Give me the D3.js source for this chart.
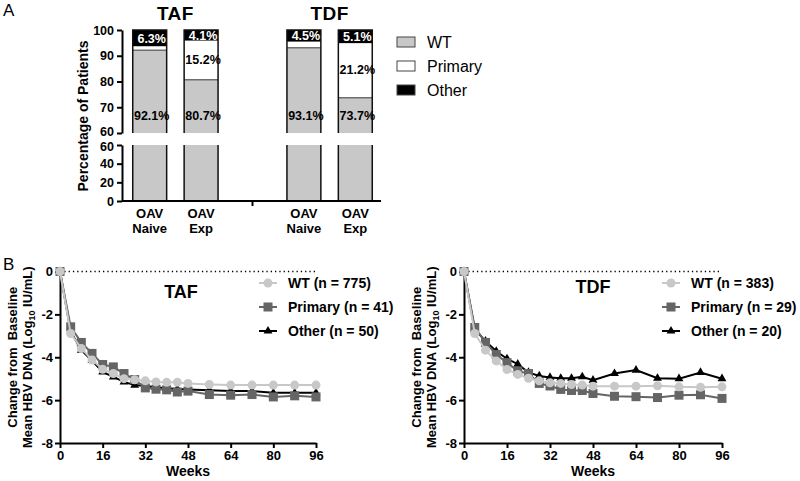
<!DOCTYPE html>
<html>
<head>
<meta charset="utf-8">
<script src="https://cdn.jsdelivr.net/npm/d3@7"></script>
<style>
  html, body { margin: 0; padding: 0; background: #fff; }
  svg { display: block; font-family: "Liberation Sans", Arial, sans-serif; }
  .b { font-weight: bold; }
</style>
</head>
<body>
<svg id="chart" width="800" height="481"></svg>
<script>
// ---------------- Panel A data ----------------
const barKeys = ["TAF-Naive", "TAF-Exp", "gap", "TDF-Naive", "TDF-Exp"];
const barLabelLine1 = ["OAV", "OAV", "", "OAV", "OAV"];
const barLabelLine2 = ["Naive", "Exp", "", "Naive", "Exp"];
const barDrugTitles = ["TAF", "TDF"];
const wtPct = [92.1, 80.7, null, 93.1, 73.7];
const primaryPct = [1.6, 15.2, null, 2.4, 21.2];
const otherPct = [6.3, 4.1, null, 4.5, 5.1];
const showPrimaryLabel = [false, true, false, false, true];
const upperTicks = [60, 70, 80, 90, 100];
const lowerTicks = [0, 20, 40, 60];
const barLegend = ["WT", "Primary", "Other"];

// ---------------- Panel B data ----------------
const weeks = [0, 4, 8, 12, 16, 20, 24, 28, 32, 36, 40, 44, 48, 56, 64, 72, 80, 88, 96];
const tafWT      = [0, -2.89, -3.59, -4.13, -4.56, -4.76, -5.00, -5.05, -5.10, -5.15, -5.17, -5.17, -5.22, -5.27, -5.30, -5.30, -5.30, -5.30, -5.30];
const tafPrimary = [0, -2.58, -3.31, -3.82, -4.34, -4.45, -4.76, -5.04, -5.43, -5.49, -5.52, -5.62, -5.58, -5.74, -5.77, -5.74, -5.85, -5.80, -5.85];
const tafOther   = [0, -2.80, -3.67, -4.15, -4.68, -4.92, -5.15, -5.30, -5.34, -5.40, -5.45, -5.48, -5.50, -5.54, -5.58, -5.58, -5.66, -5.66, -5.66];
const tdfWT      = [0, -2.89, -3.67, -4.17, -4.57, -4.80, -4.98, -5.10, -5.19, -5.22, -5.27, -5.30, -5.35, -5.35, -5.35, -5.33, -5.38, -5.40, -5.38];
const tdfPrimary = [0, -2.61, -3.31, -3.87, -4.25, -4.64, -4.76, -5.22, -5.34, -5.50, -5.55, -5.55, -5.69, -5.82, -5.84, -5.88, -5.77, -5.75, -5.92];
const tdfOther   = [0, -2.70, -3.25, -3.72, -4.07, -4.32, -4.71, -4.87, -4.94, -4.98, -4.98, -4.91, -5.07, -4.76, -4.60, -4.98, -5.00, -4.71, -5.00];
const tafLegend = ["WT (n = 775)", "Primary (n = 41)", "Other (n = 50)"];
const tdfLegend = ["WT (n = 383)", "Primary (n = 29)", "Other (n = 20)"];
const weekTicks = [0, 16, 32, 48, 64, 80, 96];
const changeTicks = [0, -2, -4, -6, -8];

const svg = d3.select("#chart");
const colWT = "#c8c8c8", colPrimary = "#656565", colOther = "#000";
const FONT = "Liberation Sans, Arial, sans-serif";

function styleAxis(g, fs) {
  g.selectAll("path.domain").attr("stroke", "#000").attr("stroke-width", 2);
  g.selectAll(".tick line").attr("stroke", "#000").attr("stroke-width", 2);
  g.selectAll(".tick text").attr("font-family", FONT).attr("font-weight", "bold")
    .attr("font-size", fs).attr("fill", "#000");
}

// =============== PANEL A ===============
svg.append("text").attr("x", 3).attr("y", 16).attr("font-size", 17).text("A");

const xA = d3.scaleBand().domain(barKeys).range([124, 381]).paddingInner(0.34).paddingOuter(0.17);
const yUp = d3.scaleLinear().domain([60, 100]).range([133, 30]);
const yLo = d3.scaleLinear().domain([0, 60]).range([201, 145]);
const axisX0 = 122;

const gA = svg.append("g");
barKeys.forEach((k, i) => {
  if (wtPct[i] == null) return;
  const x = xA(k), w = xA.bandwidth();
  const segs = [
    { lo: 0, hi: wtPct[i], fill: colWT },
    { lo: wtPct[i], hi: wtPct[i] + primaryPct[i], fill: "#fff" },
    { lo: wtPct[i] + primaryPct[i], hi: 100, fill: colOther }
  ];
  segs.forEach(s => {
    const ulo = Math.max(s.lo, 60), uhi = Math.min(s.hi, 100);
    if (uhi > ulo) gA.append("rect").attr("x", x).attr("width", w)
      .attr("y", yUp(uhi)).attr("height", yUp(ulo) - yUp(uhi)).attr("fill", s.fill);
    const llo = Math.max(s.lo, 0), lhi = Math.min(s.hi, 60);
    if (lhi > llo) gA.append("rect").attr("x", x).attr("width", w)
      .attr("y", yLo(lhi)).attr("height", yLo(llo) - yLo(lhi)).attr("fill", s.fill);
  });
  gA.append("line").attr("x1", x).attr("x2", x + w)
    .attr("y1", yUp(wtPct[i])).attr("y2", yUp(wtPct[i]))
    .attr("stroke", "#6e6e6e").attr("stroke-width", 1.5);
  gA.append("path").attr("d", `M${x},${yUp(60)}V${yUp(100)}H${x + w}V${yUp(60)}`)
    .attr("fill", "none").attr("stroke", "#111").attr("stroke-width", 1.5);
  gA.append("path").attr("d", `M${x},${yLo(60)}V${yLo(0)}M${x + w},${yLo(60)}V${yLo(0)}`)
    .attr("fill", "none").attr("stroke", "#111").attr("stroke-width", 1.5);
  const cx = x + w / 2 + 2;
  gA.append("text").attr("class", "b").attr("x", cx).attr("y", yUp(66.6) + 4)
    .attr("text-anchor", "middle").attr("font-size", 12.5).text(wtPct[i].toFixed(1) + "%");
  if (showPrimaryLabel[i]) {
    const mid = wtPct[i] + primaryPct[i] / 2;
    gA.append("text").attr("class", "b").attr("x", cx).attr("y", yUp(mid) + 4)
      .attr("text-anchor", "middle").attr("font-size", 12.5).text(primaryPct[i].toFixed(1) + "%");
  }
  gA.append("text").attr("class", "b").attr("x", cx).attr("y", yUp(100 - otherPct[i] / 2) + 4.5)
    .attr("text-anchor", "middle").attr("font-size", 12.5).attr("fill", "#fff")
    .text(otherPct[i].toFixed(1) + "%");
});

const gUp = svg.append("g").attr("transform", `translate(${axisX0},0)`)
  .call(d3.axisLeft(yUp).tickValues(upperTicks).tickSize(5).tickSizeOuter(0).tickPadding(3));
styleAxis(gUp, 12.5);
gUp.selectAll(".tick text").filter(d => d === 60).attr("dy", "0.2em");
const gLo = svg.append("g").attr("transform", `translate(${axisX0},0)`)
  .call(d3.axisLeft(yLo).tickValues(lowerTicks).tickSize(5).tickSizeOuter(0).tickPadding(3));
styleAxis(gLo, 12.5);
gLo.selectAll(".tick text").filter(d => d === 60).attr("dy", "0.45em");
svg.append("line").attr("x1", axisX0).attr("x2", 381).attr("y1", yLo(0)).attr("y2", yLo(0))
  .attr("stroke", "#000").attr("stroke-width", 2);
svg.append("line").attr("x1", xA("gap") + xA.bandwidth() / 2).attr("x2", xA("gap") + xA.bandwidth() / 2)
  .attr("y1", yLo(0)).attr("y2", yLo(0) + 5).attr("stroke", "#000").attr("stroke-width", 2);
barKeys.forEach((k, i) => {
  if (!barLabelLine1[i]) return;
  const cx = xA(k) + xA.bandwidth() / 2;
  svg.append("text").attr("class", "b").attr("x", cx).attr("y", 218).attr("text-anchor", "middle")
    .attr("font-size", 13).text(barLabelLine1[i]);
  svg.append("text").attr("class", "b").attr("x", cx).attr("y", 233).attr("text-anchor", "middle")
    .attr("font-size", 13).text(barLabelLine2[i]);
});
[["TAF-Naive", "TAF-Exp"], ["TDF-Naive", "TDF-Exp"]].forEach((pair, j) => {
  const cx = (xA(pair[0]) + xA(pair[1]) + xA.bandwidth()) / 2;
  svg.append("text").attr("class", "b").attr("x", cx).attr("y", 20).attr("text-anchor", "middle")
    .attr("font-size", 19).attr("letter-spacing", 0.5).text(barDrugTitles[j]);
});
svg.append("text").attr("class", "b").attr("transform", "translate(88,116) rotate(-90)")
  .attr("text-anchor", "middle").attr("font-size", 14).text("Percentage of Patients");
const legFills = [colWT, "#fff", colOther];
barLegend.forEach((t, i) => {
  const cy = 42 + i * 24;
  svg.append("rect").attr("x", 397).attr("y", cy - 5).attr("width", 18).attr("height", 10)
    .attr("fill", legFills[i]).attr("stroke", "#444").attr("stroke-width", 1);
  svg.append("text").attr("x", 427).attr("y", cy + 6).attr("font-size", 16).text(t);
});

// =============== PANEL B ===============
svg.append("text").attr("x", 3).attr("y", 270).attr("font-size", 17).text("B");

const yB = d3.scaleLinear().domain([-8, 0]).range([443, 271.5]);

function triPath(size) { return d3.symbol().type(d3.symbolTriangle).size(size)(); }

function drawMarker(g, type, x, y, color) {
  if (type === "circle") {
    g.append("circle").attr("cx", x).attr("cy", y).attr("r", 4.5).attr("fill", color);
  } else if (type === "square") {
    g.append("rect").attr("x", x - 4.5).attr("y", y - 4.5).attr("width", 9).attr("height", 9).attr("fill", color);
  } else {
    g.append("path").attr("d", triPath(34)).attr("transform", `translate(${x},${y})`).attr("fill", color);
  }
}

function linePanel(x0, x1, title, titleX, titleY, series, legendTexts, legX) {
  const xB = d3.scaleLinear().domain([0, 96]).range([x0, x1]);
  const g = svg.append("g");
  g.append("line").attr("x1", xB(0)).attr("x2", xB(96)).attr("y1", yB(0)).attr("y2", yB(0))
    .attr("stroke", "#000").attr("stroke-width", 1.3).attr("stroke-dasharray", "1.3,3");
  const gx = g.append("g").attr("transform", `translate(0,${yB(-8)})`)
    .call(d3.axisBottom(xB).tickValues(weekTicks).tickSize(5).tickSizeOuter(0).tickPadding(3));
  styleAxis(gx, 13);
  const gy = g.append("g").attr("transform", `translate(${xB(0)},0)`)
    .call(d3.axisLeft(yB).tickValues(changeTicks).tickSize(5).tickSizeOuter(0).tickPadding(2)
      .tickFormat(d => d === 0 ? "0" : "-" + Math.abs(d)));
  styleAxis(gy, 13);
  g.append("text").attr("class", "b").attr("x", (xB(0) + xB(96)) / 2).attr("y", 476)
    .attr("text-anchor", "middle").attr("font-size", 14).text("Weeks");
  const yc = (yB(0) + yB(-8)) / 2;
  g.append("text").attr("class", "b").attr("transform", `translate(${xB(0) - 43},${yc}) rotate(-90)`)
    .attr("text-anchor", "middle").attr("font-size", 13).attr("xml:space", "preserve")
    .text("Change from  Baseline");
  const t2 = g.append("text").attr("class", "b").attr("transform", `translate(${xB(0) - 28},${yc}) rotate(-90)`)
    .attr("text-anchor", "middle").attr("font-size", 13);
  t2.append("tspan").text("Mean HBV DNA (Log");
  t2.append("tspan").attr("font-size", 9).attr("dy", 3).text("10");
  t2.append("tspan").attr("dy", -3).text(" IU/mL)");
  g.append("text").attr("class", "b").attr("x", titleX).attr("y", titleY).attr("text-anchor", "middle")
    .attr("font-size", 18).text(title);

  const line = d3.line().x((d, i) => xB(weeks[i])).y(d => yB(d));
  series.forEach(s => {
    g.append("path").datum(s.vals).attr("d", line).attr("fill", "none")
      .attr("stroke", s.color).attr("stroke-width", 2);
    s.vals.forEach((v, i) => drawMarker(g, s.type, xB(weeks[i]), yB(v), s.color));
  });
  const order = ["wt", "primary", "other"];
  order.forEach((key, i) => {
    const s = series.find(d => d.key === key);
    const cy = 283 + i * 24;
    g.append("line").attr("x1", legX - 9).attr("x2", legX + 9).attr("y1", cy).attr("y2", cy)
      .attr("stroke", s.color).attr("stroke-width", 2);
    drawMarker(g, s.type, legX, cy, s.color);
    g.append("text").attr("class", "b").attr("x", legX + 20).attr("y", cy + 5)
      .attr("font-size", 14).text(legendTexts[i]);
  });
}

linePanel(60, 316, "TAF", 181, 298, [
  { key: "other", vals: tafOther, color: colOther, type: "triangle" },
  { key: "primary", vals: tafPrimary, color: colPrimary, type: "square" },
  { key: "wt", vals: tafWT, color: colWT, type: "circle" }
], tafLegend, 268);

linePanel(464, 722, "TDF", 593, 293, [
  { key: "other", vals: tdfOther, color: colOther, type: "triangle" },
  { key: "primary", vals: tdfPrimary, color: colPrimary, type: "square" },
  { key: "wt", vals: tdfWT, color: colWT, type: "circle" }
], tdfLegend, 671);
</script>
</body>
</html>
